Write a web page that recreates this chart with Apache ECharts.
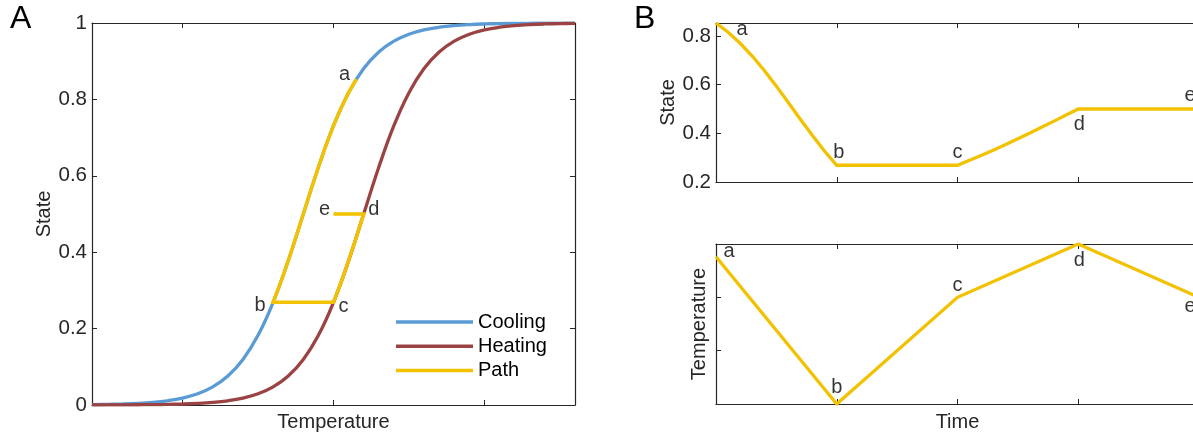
<!DOCTYPE html>
<html>
<head>
<meta charset="utf-8">
<script src="https://cdn.jsdelivr.net/npm/echarts@6/dist/echarts.min.js"></script>
<style>
html,body{margin:0;padding:0;background:#fff;}
#chart{width:1193px;height:434px;}
</style>
</head>
<body>
<div id="chart"></div>
<script>
// ---------- data ----------
// Panel A: hysteresis curves, state vs temperature
const tempGrid = [-1.6,-1.5,-1.4,-1.3,-1.2,-1.1,-1.0,-0.9,-0.8,-0.7,-0.6,-0.5,-0.4,-0.3,-0.2,-0.1,0,0.1,0.2,0.3,0.4,0.5,0.6,0.7,0.8,0.9,1.0,1.1,1.2,1.3,1.4,1.5,1.6];
const coolingState = [0.0009,0.0015,0.0025,0.0041,0.0067,0.0110,0.0180,0.0293,0.0474,0.0759,0.1192,0.1824,0.2689,0.3775,0.5000,0.6225,0.7311,0.8176,0.8808,0.9241,0.9526,0.9707,0.9820,0.9890,0.9933,0.9959,0.9975,0.9985,0.9991,0.9994,0.9997,0.9998,0.9999];
const heatingState = [0.0001,0.0002,0.0003,0.0006,0.0009,0.0015,0.0025,0.0041,0.0067,0.0110,0.0180,0.0293,0.0474,0.0759,0.1192,0.1824,0.2689,0.3775,0.5000,0.6225,0.7311,0.8176,0.8808,0.9241,0.9526,0.9707,0.9820,0.9890,0.9933,0.9959,0.9975,0.9985,0.9991];
// path a -> b -> c -> d -> e
const pathTemp  = [0.152,0.1,0.05,0,-0.05,-0.1,-0.15,-0.2,-0.25,-0.3,-0.35,-0.4, 0, 0.05,0.1,0.15,0.2, 0];
const pathState = [0.8533,0.8176,0.7773,0.7311,0.6792,0.6225,0.5622,0.5,0.4378,0.3775,0.3208,0.2689, 0.2689, 0.3208,0.3775,0.4378,0.5, 0.5];
// key points
const keyNames = ['a','b','c','d','e'];
const keyTemp  = [0.152,-0.4,0,0.2,0];
const keyState = [0.8533,0.2689,0.2689,0.5,0.5];
const keyTime  = [0,1,2,3,4];
// Panel B top: state vs time
const timeState = [0,0.1,0.2,0.3,0.4,0.5,0.6,0.7,0.8,0.9,1.0, 2.0,2.1,2.2,2.3,2.4,2.5,2.6,2.7,2.8,2.9,3.0, 4];
const stateVsTime = [0.8533,0.8152,0.7700,0.7175,0.6584,0.5939,0.5260,0.4571,0.3898,0.3265,0.2689, 0.2689,0.2891,0.3100,0.3318,0.3543,0.3775,0.4013,0.4256,0.4502,0.4750,0.5000, 0.5000];
// Panel B bottom: temperature vs time
const timeTemp = [0,1,2,3,4];
const tempVsTime = [0.152,-0.4,0,0.2,0];
// tick values
const stateTicksA = [0,0.2,0.4,0.6,0.8,1];
const tempTicksA = [-1,0,1];
const stateTicksB = [0.2,0.4,0.6,0.8];

// ---------- styles ----------
const FONT = 'Liberation Sans';
const AX = '#262626';
const BLUE = '#5B9BD5', RED = '#9B4343', GOLD = '#F2C200';
const LW = 3.3;
const offA   = [[-12,-5],[-13,3],[10,4],[10,-5],[-9,-5]];
const offBt  = [[26,6],[2,-13],[0,-13],[1,15],[-9,-14]];
const offBb  = [[13,-5],[0,-17],[0,-12],[1,16],[-9,9]];

const zip = (xs, ys) => xs.map((x, i) => [x, ys[i]]);

function axisCommon(extra) {
  return Object.assign({
    type: 'value',
    axisLine: {show: true, onZero: false, lineStyle: {color: AX, width: 1.2}},
    axisTick: {show: true, inside: true, length: 5, lineStyle: {color: AX, width: 1}},
    axisLabel: {show: false},
    splitLine: {show: false}
  }, extra);
}
function labelSeries(xi, yi, xs, ys, offs) {
  return {
    type: 'scatter', xAxisIndex: xi, yAxisIndex: yi, silent: true,
    symbolSize: 1, itemStyle: {color: 'rgba(0,0,0,0)'}, z: 10,
    data: xs.map((x, i) => ({
      value: [x, ys[i]], name: keyNames[i],
      label: {offset: offs[i]}
    })),
    label: {show: true, position: 'inside', formatter: p => p.name,
      fontFamily: FONT, fontSize: 20, color: '#000', align: 'center', verticalAlign: 'middle'}
  };
}
const nameStyle = {fontFamily: FONT, fontSize: 20, color: AX};
const tickLabel = {show: true, inside: false, margin: 5, fontFamily: FONT, fontSize: 20.5, color: AX};
const gridBase = {containLabel: false, outerBoundsMode: 'none'};

const option = {
  animation: false,
  backgroundColor: '#fff',
  textStyle: {fontFamily: FONT},
  grid: [
    Object.assign({left: 92, top: 23, right: 618, bottom: 29}, gridBase),
    Object.assign({left: 716, top: 23, right: -6, bottom: 252}, gridBase),
    Object.assign({left: 716, top: 244, right: -6, bottom: 30}, gridBase)
  ],
  xAxis: [
    axisCommon({gridIndex: 0, position: 'bottom', min: -1.6, max: 1.6,
      axisTick: {show: true, inside: true, length: 5, customValues: tempTicksA, lineStyle: {color: AX}},
      name: 'Temperature', nameLocation: 'middle', nameGap: 7, nameTextStyle: nameStyle}),
    axisCommon({gridIndex: 0, position: 'top', min: -1.6, max: 1.6,
      axisTick: {show: true, inside: true, length: 5, customValues: tempTicksA, lineStyle: {color: AX}}}),
    axisCommon({gridIndex: 1, position: 'bottom', min: 0, max: 4, interval: 1}),
    axisCommon({gridIndex: 1, position: 'top', min: 0, max: 4, interval: 1}),
    axisCommon({gridIndex: 2, position: 'bottom', min: 0, max: 4, interval: 1,
      name: 'Time', nameLocation: 'middle', nameGap: 8, nameTextStyle: nameStyle}),
    axisCommon({gridIndex: 2, position: 'top', min: 0, max: 4, interval: 1})
  ],
  yAxis: [
    axisCommon({gridIndex: 0, position: 'left', min: 0, max: 1, interval: 0.2,
      axisLabel: Object.assign({customValues: stateTicksA}, tickLabel),
      name: 'State', nameLocation: 'middle', nameGap: 38, nameTextStyle: nameStyle}),
    axisCommon({gridIndex: 0, position: 'right', min: 0, max: 1, interval: 0.2}),
    axisCommon({gridIndex: 1, position: 'left', min: 0.2, max: 0.8533,
      axisTick: {show: true, inside: true, length: 5, customValues: stateTicksB, lineStyle: {color: AX}},
      axisLabel: Object.assign({customValues: stateTicksB}, tickLabel),
      name: 'State', nameLocation: 'middle', nameGap: 38, nameTextStyle: nameStyle}),
    axisCommon({gridIndex: 1, position: 'right', min: 0.2, max: 0.8533,
      axisTick: {show: true, inside: true, length: 5, customValues: stateTicksB, lineStyle: {color: AX}}}),
    axisCommon({gridIndex: 2, position: 'left', min: -0.4, max: 0.2, interval: 0.2,
      name: 'Temperature', nameLocation: 'middle', nameGap: 7, nameTextStyle: nameStyle}),
    axisCommon({gridIndex: 2, position: 'right', min: -0.4, max: 0.2, interval: 0.2})
  ],
  legend: {
    data: ['Cooling', 'Heating', 'Path'],
    orient: 'vertical', left: 396, top: 312,
    icon: 'rect', itemWidth: 77, itemHeight: 3.5, itemGap: 4.3,
    padding: 0, selectedMode: false,
    textStyle: {fontFamily: FONT, fontSize: 20, color: '#000', lineHeight: 20}
  },
  graphic: [
    {type: 'text', left: 10, top: 3, style: {text: 'A', font: '32px "Liberation Sans"', fill: '#000'}},
    {type: 'text', left: 634, top: 3, style: {text: 'B', font: '32px "Liberation Sans"', fill: '#000'}}
  ],
  series: [
    {name: 'Cooling', type: 'line', xAxisIndex: 0, yAxisIndex: 0, data: zip(tempGrid, coolingState),
      symbol: 'none', smooth: 0.4, lineStyle: {color: BLUE, width: LW}, itemStyle: {color: BLUE}, z: 2},
    {name: 'Heating', type: 'line', xAxisIndex: 0, yAxisIndex: 0, data: zip(tempGrid, heatingState),
      symbol: 'none', smooth: 0.4, lineStyle: {color: RED, width: LW}, itemStyle: {color: RED}, z: 3},
    {name: 'Path', type: 'line', xAxisIndex: 0, yAxisIndex: 0, data: zip(pathTemp, pathState),
      symbol: 'none', lineStyle: {color: GOLD, width: LW + 0.2, join: 'miter'}, itemStyle: {color: GOLD}, z: 4},
    {name: 'PathState', type: 'line', xAxisIndex: 2, yAxisIndex: 2, data: zip(timeState, stateVsTime),
      symbol: 'none', lineStyle: {color: GOLD, width: LW, join: 'miter'}, itemStyle: {color: GOLD}},
    {name: 'PathTemp', type: 'line', xAxisIndex: 4, yAxisIndex: 4, data: zip(timeTemp, tempVsTime),
      symbol: 'none', lineStyle: {color: GOLD, width: LW, join: 'miter'}, itemStyle: {color: GOLD}},
    labelSeries(0, 0, keyTemp, keyState, offA),
    labelSeries(2, 2, keyTime, keyState, offBt),
    labelSeries(4, 4, keyTime, tempVsTime, offBb)
  ]
};
const chart = echarts.init(document.getElementById('chart'), null, {renderer: 'canvas'});
chart.setOption(option);
</script>
</body>
</html>
